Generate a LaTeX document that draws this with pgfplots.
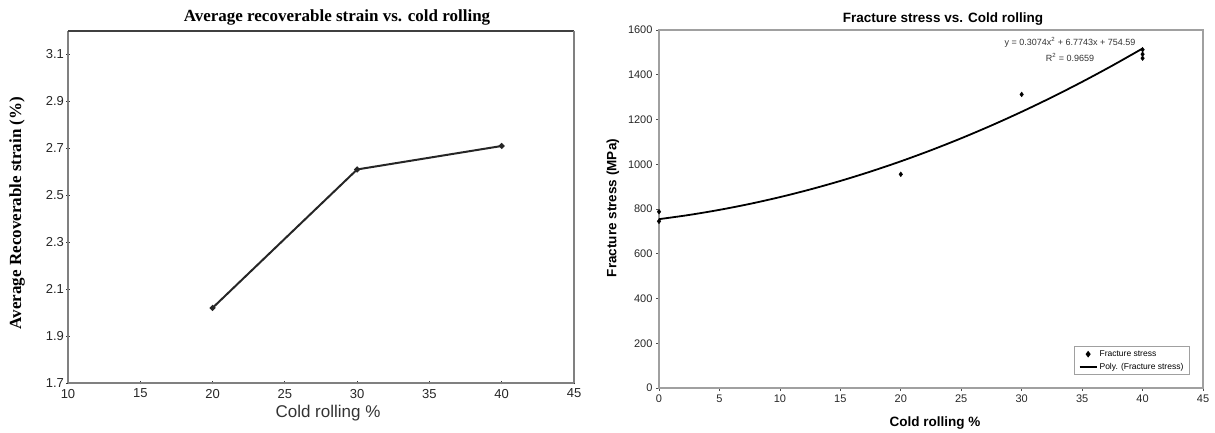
\documentclass[border=0pt]{standalone}
\usepackage{pgfplots}
\pgfplotsset{compat=1.18}
\usepackage{fontspec}
\setmainfont{Liberation Serif}
\setsansfont{Liberation Sans}
\definecolor{framegray}{RGB}{128,128,128}
\definecolor{lightframe}{RGB}{160,160,160}
\newcommand{\fs}[1]{\fontsize{#1}{#1}\selectfont}
\begin{document}
\begin{tikzpicture}
\useasboundingbox (0,0) rectangle (1215pt,433pt);

% ---- Average recoverable strain vs. cold rolling ----
\begin{axis}[
  at={(68pt,50pt)}, anchor=south west,
  scale only axis, width=506pt, height=352pt,
  xmin=10, xmax=45, ymin=1.7, ymax=3.2,
  xtick={10,15,20,25,30,35,40,45},
  ytick={1.7,1.9,2.1,2.3,2.5,2.7,2.9,3.1},
  yticklabel style={/pgf/number format/fixed,/pgf/number format/precision=1,
    /pgf/number format/fixed zerofill},
  /pgf/number format/assume math mode=true,
  tick label style={font=\sffamily\fs{13}, text=black!85},
  xticklabel style={yshift=-1pt},
  yticklabel style={xshift=1pt},
  axis line style={framegray, line width=2.2pt},
  tick style={black!80, line width=0.8pt},
  major tick length=3pt, tick align=center,
  axis x line*=bottom, axis y line*=left,
  clip=false,
]
\addplot[black!85, line width=2pt, mark=*, mark size=1.8pt]
  coordinates {(20,2.02) (30,2.61) (40,2.71)};
% remaining frame sides
\draw[black!75, line width=1.6pt] (rel axis cs:0,1) -- (rel axis cs:1,1);
\draw[framegray, line width=2.2pt] (rel axis cs:1,0) -- (rel axis cs:1,1);
\end{axis}

% ---- Fracture stress vs. cold rolling ----
\begin{axis}[
  at={(659pt,45pt)}, anchor=south west,
  scale only axis, width=544pt, height=358pt,
  xmin=0, xmax=45, ymin=0, ymax=1600,
  xtick={0,5,10,15,20,25,30,35,40,45},
  ytick={0,200,400,600,800,1000,1200,1400,1600},
  /pgf/number format/assume math mode=true,
  scaled y ticks=false,
  yticklabel style={/pgf/number format/1000 sep={}},
  tick label style={font=\sffamily\fs{11}, text=black!85},
  axis line style={lightframe, line width=1.2pt},
  tick style={black!70, line width=0.7pt},
  major tick length=3pt, tick align=outside,
  xtick pos=bottom, ytick pos=left,
  clip=false,
  legend style={at={(0.976,0.036)}, anchor=south east,
    font=\sffamily\fs{8.5}, draw=lightframe, line width=1.2pt,
    inner xsep=4pt, inner ysep=2pt, row sep=1pt, cells={anchor=west}},
  legend cell align=left,
]
\addplot[only marks, mark=diamond*, mark size=2.4pt, black]
  coordinates {(0,788) (0,745) (20,955) (30,1312) (40,1512) (40,1492) (40,1474)};
\addlegendentry{Fracture stress}
% second-order polynomial trend, evaluated every 2.5 %
\addplot[black, line width=1.8pt, smooth]
  coordinates {(0,754.59) (2.5,773.45) (5,796.15) (7.5,822.69) (10,853.07)
    (12.5,887.30) (15,925.37) (17.5,967.28) (20,1013.04) (22.5,1062.63)
    (25,1116.08) (27.5,1173.35) (30,1234.48) (32.5,1299.44) (35,1368.26)
    (37.5,1440.91) (40,1517.40)};
\addlegendentry{Poly. (Fracture stress)}
\node[font=\sffamily\fs{9}, text=black!80] at (axis cs:34,1546)
  {y = 0.3074x\textsuperscript{2} + 6.7743x + 754.59};
\node[font=\sffamily\fs{9}, text=black!80] at (axis cs:34,1479)
  {R\textsuperscript{2} = 0.9659};
\end{axis}

% titles and axis labels
\node[font=\rmfamily\bfseries\fs{17}] at (337pt,416pt)
  {Average recoverable strain vs. cold rolling};
\node[font=\rmfamily\bfseries\fs{17}, rotate=90] at (17pt,220pt)
  {Average Recoverable strain (\%)};
\node[font=\sffamily\fs{17}, text=black!80] at (328pt,20pt) {Cold rolling \%};

\node[font=\sffamily\bfseries\fs{13.5}] at (943pt,414pt)
  {Fracture stress vs. Cold rolling};
\node[font=\sffamily\bfseries\fs{13.5}, rotate=90] at (613pt,225pt)
  {Fracture stress (MPa)};
\node[font=\sffamily\bfseries\fs{13.5}] at (935pt,10pt) {Cold rolling \%};
\end{tikzpicture}
\end{document}
